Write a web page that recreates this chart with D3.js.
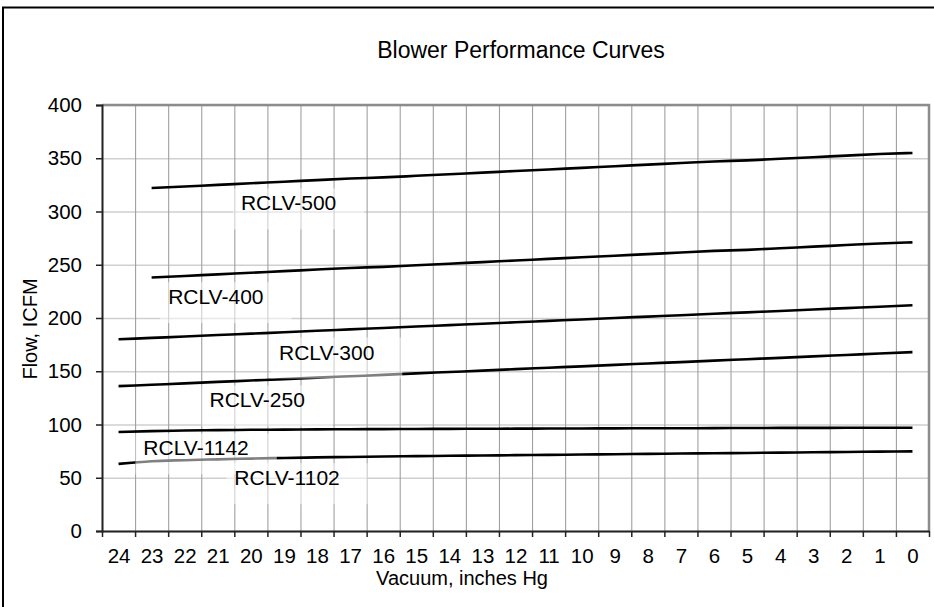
<!DOCTYPE html>
<html>
<head>
<meta charset="utf-8">
<script src="https://cdn.jsdelivr.net/npm/d3@7"></script>
<style>
  body { margin: 0; background: #fff; }
  svg text { font-family: Arial, "Liberation Sans", sans-serif; fill: #000; }
</style>
</head>
<body>
<div id="chart"></div>
<script>
// vacuum categories, inches Hg (left to right)
const vacuum = [24, 23, 22, 21, 20, 19, 18, 17, 16, 15, 14, 13, 12, 11, 10, 9, 8, 7, 6, 5, 4, 3, 2, 1, 0];

// flow in ICFM, one value per vacuum category (null = no reading)
const flow500 = [null, 322, 323.5, 325, 326.5, 328, 329.5, 331, 332, 333.5, 335, 336.5, 338, 339.5, 341, 342.5, 344, 345.5, 347, 348, 349.5, 351, 352.5, 354, 355];
const flow400 = [null, 238, 239.5, 241, 242.5, 244, 245.5, 247, 248, 249.5, 251, 252.5, 254, 255.5, 257, 258.5, 260, 261.5, 263, 264, 265.5, 267, 268.5, 270, 271];
const flow300 = [180, 181.3, 182.6, 184, 185.3, 186.6, 188, 189.3, 190.6, 192, 193.3, 194.6, 196, 197.3, 198.6, 200, 201.3, 202.6, 204, 205.3, 206.6, 208, 209.3, 210.6, 212];
const flow250 = [136, 137.3, 138.6, 140, 141.3, 142.6, 144, 145.3, 146.6, 148, 149.3, 150.6, 152, 153.3, 154.6, 156, 157.3, 158.6, 160, 161.3, 162.6, 164, 165.3, 166.6, 168];
const flow1142 = [93, 93.8, 94.3, 94.7, 95, 95.2, 95.4, 95.6, 95.7, 95.8, 95.9, 96, 96.1, 96.2, 96.3, 96.4, 96.5, 96.5, 96.6, 96.7, 96.8, 96.8, 96.9, 97, 97];
const flow1102 = [63, 65.5, 66.5, 67.3, 68, 68.6, 69.1, 69.5, 69.9, 70.3, 70.6, 70.9, 71.2, 71.5, 71.8, 72.1, 72.4, 72.7, 73, 73.3, 73.6, 73.9, 74.2, 74.5, 74.8];

const seriesNames = ['RCLV-500', 'RCLV-400', 'RCLV-300', 'RCLV-250', 'RCLV-1142', 'RCLV-1102'];
const seriesFlows = [flow500, flow400, flow300, flow250, flow1142, flow1102];

// where each name sits, in chart units (vacuum, flow)
const labelVacuum = [20.3, 22.5, 19.15, 21.25, 23.25, 20.5];
const labelFlow = [301, 213, 161, 116, 71, 43];

const yTicks = [0, 50, 100, 150, 200, 250, 300, 350, 400];

class PerformanceChart {
  constructor(_config, _data) {
    this.config = {
      parentElement: _config.parentElement,
      width: 934,
      height: 607,
      margin: { top: 105, right: 5, bottom: 76, left: 102 }
    };
    this.data = _data;
    this.initVis();
  }

  initVis() {
    let vis = this;
    const m = vis.config.margin;
    vis.innerW = vis.config.width - m.left - m.right;
    vis.innerH = vis.config.height - m.top - m.bottom;

    vis.svg = d3.select(vis.config.parentElement).append('svg')
      .attr('width', vis.config.width)
      .attr('height', vis.config.height);

    // outer frame of the chart object (runs off the right/bottom edge)
    vis.svg.append('rect')
      .attr('x', 3).attr('y', 7.5)
      .attr('width', 1000).attr('height', 700)
      .attr('fill', 'none')
      .attr('stroke', '#000')
      .attr('stroke-width', 2);

    vis.svg.append('text')
      .attr('x', 521).attr('y', 57.5)
      .attr('text-anchor', 'middle')
      .attr('font-size', 23)
      .text('Blower Performance Curves');

    vis.chart = vis.svg.append('g')
      .attr('transform', `translate(${m.left},${m.top})`);

    // categories are bands, so the numeric scale runs half a step past each end
    vis.xScale = d3.scaleLinear()
      .domain([d3.max(vacuum) + 0.5, d3.min(vacuum) - 0.5])
      .range([0, vis.innerW]);

    vis.yScale = d3.scaleLinear()
      .domain([0, 400])
      .range([vis.innerH, 0]);

    const bounds = vacuum.map(v => v + 0.5).concat([d3.min(vacuum) - 0.5]);

    // horizontal gridlines
    vis.chart.append('g')
      .call(d3.axisLeft(vis.yScale).tickValues(yTicks).tickSize(-vis.innerW).tickFormat(''))
      .call(g => g.select('.domain').remove())
      .call(g => g.selectAll('line').attr('stroke', '#cfcfcf').attr('stroke-width', 1.5));

    // vertical gridlines at the category boundaries
    vis.chart.append('g')
      .attr('transform', `translate(0,${vis.innerH})`)
      .call(d3.axisBottom(vis.xScale).tickValues(bounds).tickSize(vis.innerH).tickFormat(''))
      .call(g => g.select('.domain').remove())
      .call(g => g.selectAll('line')
        .attr('transform', `translate(0,${-vis.innerH})`)
        .attr('stroke', '#a0a0a0').attr('stroke-width', 1.1));

    // plot area frame, top and right
    vis.chart.append('path')
      .attr('d', `M0,0H${vis.innerW}V${vis.innerH}`)
      .attr('fill', 'none')
      .attr('stroke', '#8c8c8c')
      .attr('stroke-width', 2.5);

    vis.line = d3.line()
      .defined(d => d.flow != null)
      .x(d => vis.xScale(d.vacuum))
      .y(d => vis.yScale(d.flow))
      .curve(d3.curveMonotoneX);

    vis.chart.selectAll('.curve')
      .data(vis.data)
      .join('path')
      .attr('class', 'curve')
      .attr('fill', 'none')
      .attr('stroke', '#000')
      .attr('stroke-width', 2.6)
      .attr('d', d => vis.line(d.values));

    // y axis
    vis.chart.append('g')
      .call(d3.axisLeft(vis.yScale).tickValues(yTicks).tickSize(6).tickPadding(14))
      .call(g => g.select('.domain').attr('stroke', '#222').attr('stroke-width', 2))
      .call(g => g.selectAll('line').attr('stroke', '#222').attr('stroke-width', 1.5))
      .call(g => g.selectAll('text').attr('font-size', 20.5).attr('font-family', 'Arial, "Liberation Sans", sans-serif'));

    // x axis: tick marks on the boundaries, labels in the middle of each band
    vis.chart.append('g')
      .attr('transform', `translate(0,${vis.innerH})`)
      .call(d3.axisBottom(vis.xScale).tickValues(bounds).tickSize(6).tickSizeOuter(0).tickFormat(''))
      .call(g => g.select('.domain').attr('stroke', '#222').attr('stroke-width', 2))
      .call(g => g.selectAll('line').attr('stroke', '#222').attr('stroke-width', 1.5));

    vis.chart.append('g')
      .attr('transform', `translate(0,${vis.innerH})`)
      .call(d3.axisBottom(vis.xScale).tickValues(vacuum).tickSize(0).tickPadding(17).tickFormat(d3.format('d')))
      .call(g => g.select('.domain').remove())
      .call(g => g.selectAll('text').attr('font-size', 20.5).attr('font-family', 'Arial, "Liberation Sans", sans-serif'));

    // axis titles
    vis.svg.append('text')
      .attr('transform', 'translate(37,329) rotate(-90)')
      .attr('text-anchor', 'middle')
      .attr('font-size', 20)
      .text('Flow, ICFM');

    vis.svg.append('text')
      .attr('x', 462).attr('y', 585)
      .attr('text-anchor', 'middle')
      .attr('font-size', 20)
      .text('Vacuum, inches Hg');

    // curve names, each on a half see-through white box
    const labels = vis.chart.selectAll('.name')
      .data(vis.data)
      .join('g')
      .attr('class', 'name')
      .attr('transform', d => `translate(${vis.xScale(d.labelVacuum)},${vis.yScale(d.labelFlow)})`);

    labels.append('text')
      .attr('font-size', 21)
      .text(d => d.name);

    labels.insert('rect', 'text')
      .attr('x', -8)
      .attr('y', -22)
      .attr('width', function () { return this.parentNode.querySelector('text').getComputedTextLength() + 36; })
      .attr('height', 41)
      .attr('fill', '#fff')
      .attr('fill-opacity', 0.5);
  }
}

const chartData = seriesNames.map((name, i) => ({
  name: name,
  labelVacuum: labelVacuum[i],
  labelFlow: labelFlow[i],
  values: vacuum.map((v, j) => ({ vacuum: v, flow: seriesFlows[i][j] }))
}));

new PerformanceChart({ parentElement: '#chart' }, chartData);
</script>
</body>
</html>
